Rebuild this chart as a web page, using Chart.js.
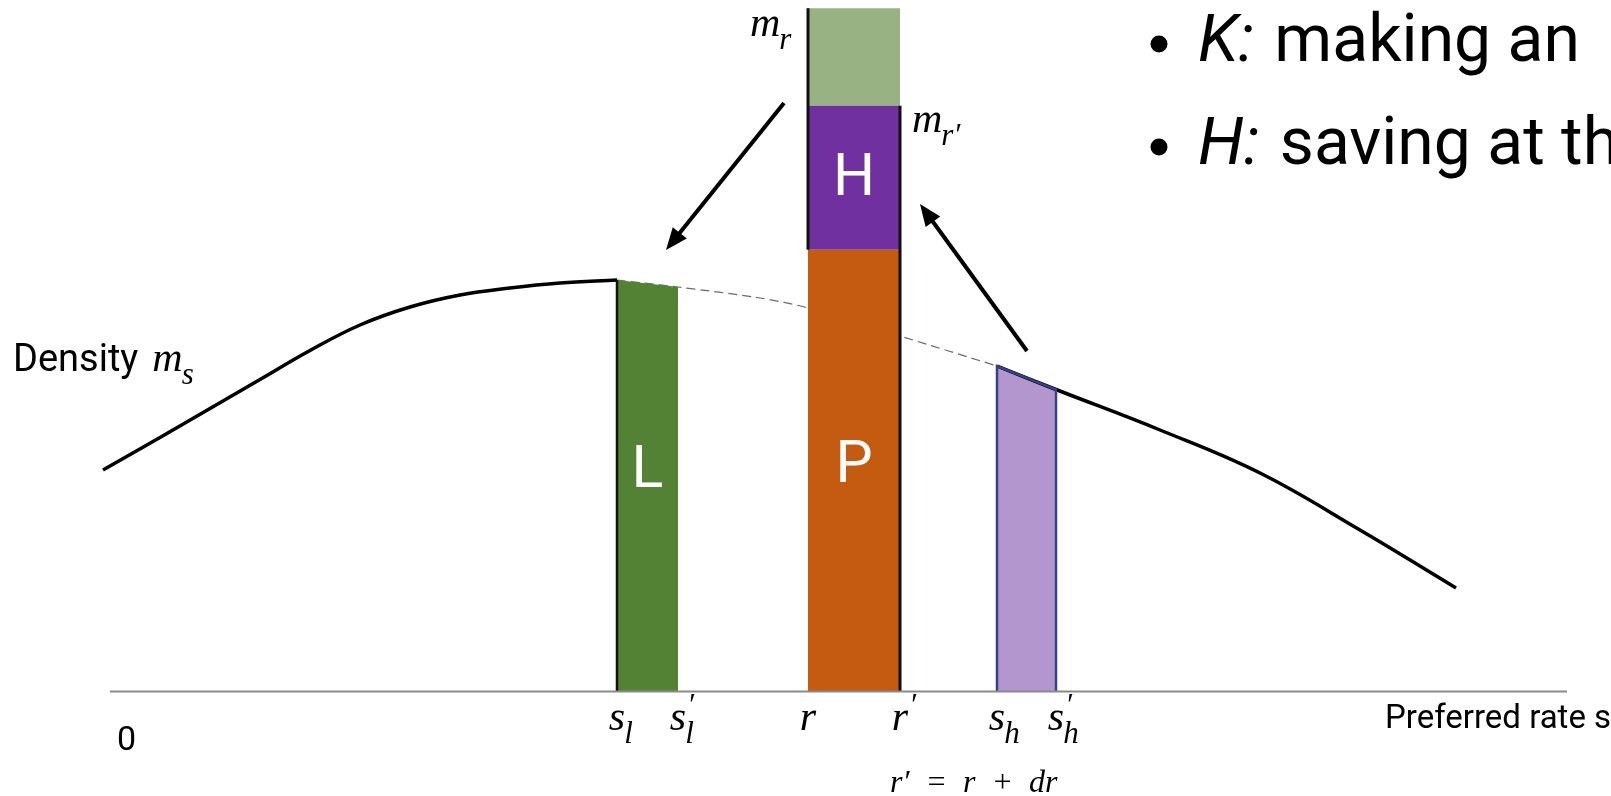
<!DOCTYPE html>
<html>
<head>
<meta charset="utf-8">
<script src="https://cdn.jsdelivr.net/npm/chart.js@4.4.1/dist/chart.umd.min.js"></script>
<style>
html, body { margin: 0; padding: 0; background: #fff; }
canvas { display: block; }
</style>
</head>
<body>
<canvas id="density-chart" width="1611" height="796"></canvas>
<script>
/*===============
data
====================*/
// positions on the rate axis
const tickValues = [0, 5.07, 5.68, 6.98, 7.9, 8.87, 9.46];
const tickLabels = ['0', 's_l', "s_l'", 'r', "r'", 's_h', "s_h'"];
const axisEnd = 14.57;

// density curve: solid left part, dashed middle part, solid right part
const leftX = [-0.07, 0.5, 1.0, 1.5, 2.0, 2.5, 3.0, 3.5, 4.0, 4.5, 5.07];
const leftY = [2.215, 2.541, 2.83, 3.12, 3.41, 3.665, 3.845, 3.965, 4.035, 4.085, 4.115];
const gapX = [5.07, 5.68, 6.5, 6.98, 7.9, 8.87];
const gapY = [4.115, 4.045, 3.935, 3.835, 3.555, 3.255];
const rightX = [8.87, 9.46, 10.5, 11.5, 12.5, 13.46];
const rightY = [3.255, 3.02, 2.615, 2.185, 1.615, 1.035];

// bar heights
const lowBar = [4.115, 4.045];          // L, s_l .. s_l'
const highBar = [3.255, 3.02];          // s_h .. s_h'
const midBar = [4.418, 5.857, 6.833];   // top of P, m_r' (top of H), m_r

// arrows, tip at the "to" end
const arrowFrom = [[6.74, 5.885], [9.17, 3.405]];
const arrowTo = [[5.56, 4.415], [8.10, 4.875]];

const bullets = [['K:', ' making an'], ['H:', ' saving at the']];

/*===============
helpers
====================*/
const sans = 'Roboto, "Noto Sans", sans-serif';
const serif = '"Liberation Serif", "DejaVu Serif", serif';
const pts = (xs, ys) => xs.map((x, i) => ({ x: x, y: ys[i] }));

const sl = tickValues[1], slp = tickValues[2], r = tickValues[3];
const rp = tickValues[4], sh = tickValues[5], shp = tickValues[6];

function mathLabel(ctx, x, baseline, base, sub, prime, size, center) {
    ctx.font = 'italic ' + size + 'px ' + serif;
    const w = ctx.measureText(base).width;
    const x0 = center ? x - w / 2 : x;
    ctx.textAlign = 'left';
    ctx.fillText(base, x0, baseline);
    const small = Math.round(size * 0.74);
    ctx.font = 'italic ' + small + 'px ' + serif;
    if (prime) ctx.fillText('\u2032', x0 + w + 1, baseline - size * 0.36);
    if (sub) ctx.fillText(sub, x0 + w - 1, baseline + size * 0.3);
    return x0 + w;
}

function arrow(ctx, x0, y0, x1, y1) {
    const a = Math.atan2(y1 - y0, x1 - x0);
    const len = 22, half = 9;
    ctx.save();
    ctx.strokeStyle = '#000';
    ctx.fillStyle = '#000';
    ctx.lineWidth = 4;
    ctx.beginPath();
    ctx.moveTo(x0, y0);
    ctx.lineTo(x1 - Math.cos(a) * len * 0.8, y1 - Math.sin(a) * len * 0.8);
    ctx.stroke();
    ctx.beginPath();
    ctx.moveTo(x1, y1);
    ctx.lineTo(x1 - Math.cos(a) * len - Math.sin(a) * half, y1 - Math.sin(a) * len + Math.cos(a) * half);
    ctx.lineTo(x1 - Math.cos(a) * len + Math.sin(a) * half, y1 - Math.sin(a) * len - Math.cos(a) * half);
    ctx.closePath();
    ctx.fill();
    ctx.restore();
}

const annotations = {
    id: 'annotations',
    afterDatasetsDraw(chart) {
        const ctx = chart.ctx;
        const xs = chart.scales.x, ys = chart.scales.y;
        const X = v => xs.getPixelForValue(v);
        const Y = v => ys.getPixelForValue(v);
        ctx.save();
        ctx.fillStyle = '#000';
        ctx.textBaseline = 'alphabetic';

        // tick labels
        tickLabels.forEach((lab, i) => {
            const px = X(tickValues[i]);
            if (lab === '0') {
                ctx.font = '34px ' + sans;
                ctx.textAlign = 'left';
                ctx.fillText(lab, px + 7, 750);
                return;
            }
            const prime = lab.endsWith("'");
            const core = prime ? lab.slice(0, -1) : lab;
            const parts = core.split('_');
            mathLabel(ctx, px, 730, parts[0], parts[1] || '', prime, 42, true);
        });
        ctx.font = 'italic 32px ' + serif;
        ctx.textAlign = 'left';
        ctx.fillText('r\u2032\u2002=\u2002r\u2002+\u2002dr', 890, 792);

        // axis titles
        ctx.font = '38px ' + sans;
        ctx.fillText('Density', 13, 371);
        const dw = ctx.measureText('Density').width;
        mathLabel(ctx, 13 + dw + 14, 371, 'm', 's', false, 42, false);
        ctx.font = '33px ' + sans;
        ctx.fillText('Preferred rate s', 1385, 728);

        // m_r and m_r'
        mathLabel(ctx, X(r) - 58, 36, 'm', 'r', false, 42, false);
        mathLabel(ctx, X(rp) + 12, 132, 'm', 'r\u2032', false, 42, false);

        // bar letters
        ctx.fillStyle = '#fff';
        ctx.font = '59px ' + sans;
        ctx.textAlign = 'center';
        ctx.textBaseline = 'middle';
        ctx.fillText('L', X((sl + slp) / 2), 472);
        ctx.fillText('P', X((r + rp) / 2), 467);
        ctx.fillText('H', X((r + rp) / 2), (Y(midBar[0]) + Y(midBar[1])) / 2 + 2);

        // arrows
        arrowFrom.forEach((f, i) => {
            arrow(ctx, X(f[0]), Y(f[1]), X(arrowTo[i][0]), Y(arrowTo[i][1]));
        });

        // bullet list
        ctx.fillStyle = '#000';
        ctx.textBaseline = 'alphabetic';
        ctx.textAlign = 'left';
        bullets.forEach((b, i) => {
            const base = 61 + i * 103;
            ctx.beginPath();
            ctx.arc(1159, base - 17, 8.5, 0, Math.PI * 2);
            ctx.fill();
            ctx.font = 'italic 66px ' + sans;
            ctx.fillText(b[0], 1198, base);
            const kw = ctx.measureText(b[0]).width;
            ctx.font = '66px ' + sans;
            ctx.fillText(b[1], 1198 + kw + 4, base);
        });
        ctx.restore();
    }
};

/*===============
chart
====================*/
const densityChart = document.getElementById('density-chart');
if (densityChart) {
    new Chart(densityChart, {
        type: 'line',
        data: {
            datasets: [
                // horizontal axis
                { data: [{ x: 0, y: 0 }, { x: axisEnd, y: 0 }], borderColor: '#8a8a8a', borderWidth: 2, order: 0 },
                // bar edges
                { data: [{ x: sl, y: 0 }, { x: sl, y: lowBar[0] }], borderColor: '#111', borderWidth: 2.5, order: 1 },
                { data: [{ x: r, y: midBar[0] }, { x: r, y: midBar[2] }], borderColor: '#111', borderWidth: 3, order: 1 },
                { data: [{ x: rp, y: 0 }, { x: rp, y: midBar[1] }], borderColor: '#111', borderWidth: 3, order: 1 },
                { data: [{ x: sh, y: 0 }, { x: sh, y: highBar[0] }, { x: shp, y: highBar[1] }, { x: shp, y: 0 }], borderColor: '#34428c', borderWidth: 2.5, order: 1 },
                { data: [{ x: sh, y: 0 }, { x: sh, y: highBar[0] }], borderColor: '#111', borderWidth: 2, order: 1 },
                // density curve
                { data: pts(leftX, leftY), borderColor: '#000', borderWidth: 3.5, tension: 0.4, order: 2 },
                { data: pts(rightX, rightY), borderColor: '#000', borderWidth: 3.5, tension: 0.4, order: 2 },
                // bars
                { data: [{ x: sl, y: lowBar[0] }, { x: slp, y: lowBar[1] }], borderWidth: 0, borderColor: 'transparent', backgroundColor: '#548235', fill: 'origin', order: 3 },
                { data: [{ x: sh, y: highBar[0] }, { x: shp, y: highBar[1] }], borderWidth: 0, borderColor: 'transparent', backgroundColor: '#b396ce', fill: 'origin', order: 3 },
                { data: [{ x: r, y: midBar[0] }, { x: rp, y: midBar[0] }], borderWidth: 0, borderColor: 'transparent', backgroundColor: '#c55a11', fill: 'origin', order: 3 },
                { data: [{ x: r, y: midBar[1] }, { x: rp, y: midBar[1] }], borderWidth: 0, borderColor: 'transparent', backgroundColor: '#7030a0', fill: { value: midBar[0] }, order: 3 },
                { data: [{ x: r, y: midBar[2] }, { x: rp, y: midBar[2] }], borderWidth: 0, borderColor: 'transparent', backgroundColor: '#98b284', fill: { value: midBar[1] }, order: 3 },
                // hidden part of the curve
                { data: pts(gapX, gapY), borderColor: '#6a6a6a', borderWidth: 1.2, borderDash: [9, 5], tension: 0.3, order: 4 }
            ]
        },
        options: {
            responsive: false,
            animation: false,
            layout: { padding: 0 },
            elements: { point: { radius: 0, hoverRadius: 0 } },
            plugins: { legend: { display: false }, tooltip: { enabled: false } },
            scales: {
                x: { type: 'linear', min: -1.1, max: 15.01, display: false },
                y: { min: -1.045, max: 6.915, display: false }
            }
        },
        plugins: [annotations]
    });
}
</script>
</body>
</html>
